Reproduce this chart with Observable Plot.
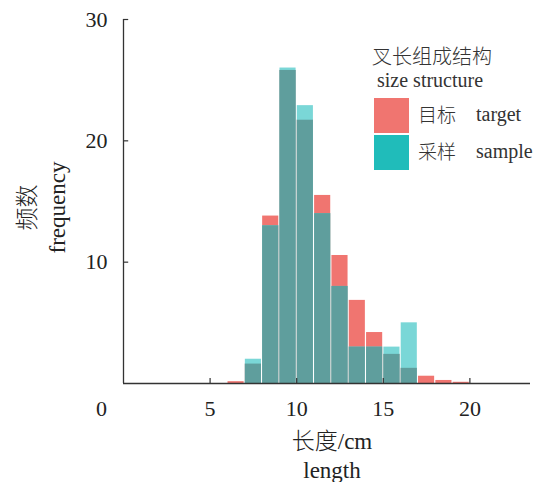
<!DOCTYPE html>
<html><head><meta charset="utf-8">
<script src="https://cdn.jsdelivr.net/npm/d3@7"></script>
<script src="https://cdn.jsdelivr.net/npm/@observablehq/plot@0.6"></script>
<style>body{margin:0;background:#fff;} #chart{position:relative;width:536px;height:482px;}</style>
</head><body><div id="chart"></div>
<script>
// Data (bin width 1 cm)
const binStarts    = [6, 7, 8, 9, 10, 11, 12, 13, 14, 15, 16, 17, 18, 19];
const targetCounts = [0.15, 1.6, 13.8, 25.8, 21.7, 15.5, 10.55, 6.85, 4.2, 2.4, 1.25, 0.6, 0.25, 0.1];
const sampleCounts = [0, 2, 13, 26, 22.9, 14, 8, 3, 3, 3, 5, 0, 0, 0];
const xTicks = [5, 10, 15, 20];
const yTicks = [10, 20, 30];
const legendTitleZh = "叉长组成结构";
const legendTitleEn = "size structure";
const seriesZh = ["目标", "采样"];
const seriesEn = ["target", "sample"];
const seriesColors = ["#F07570", "#20BCBA"];
const xTitle = "长度/cm\nlength";
const yTitle = "频数\nfrequency";

const rows = binStarts.map((b, i) => ({
  x1: b, x2: b + 1,
  target: targetCounts[i],
  sample: sampleCounts[i],
  both: Math.min(targetCounts[i], sampleCounts[i])
}));

const font = "'Liberation Serif', 'Noto Sans CJK SC', serif";
const ink = "#222";

const plot = Plot.plot({
  width: 536, height: 482,
  marginLeft: 123, marginRight: 6, marginTop: 19, marginBottom: 99,
  style: {fontFamily: font, fontSize: "22px", color: ink, background: "#fff"},
  x: {domain: [0, 23.5]},
  y: {domain: [0, 30]},
  marks: [
    Plot.rect(rows, {x1: "x1", x2: "x2", y1: 0, y2: "target", fill: "#F07570", insetLeft: 0.6, insetRight: 0.6}),
    Plot.rect(rows, {x1: "x1", x2: "x2", y1: 0, y2: "sample", fill: "#7AD7D7", insetLeft: 0.6, insetRight: 0.6}),
    Plot.rect(rows, {x1: "x1", x2: "x2", y1: 0, y2: "both", fill: "#5F9E9D", insetLeft: 0.6, insetRight: 0.6}),
    Plot.ruleY([0], {stroke: "#333", strokeWidth: 1.3}),
    Plot.ruleX([0], {y1: 0, y2: 30, stroke: "#333", strokeWidth: 1.3}),
    Plot.ruleY(yTicks, {x1: 0, x2: 0.3, stroke: "#333", strokeWidth: 1.2}),
    Plot.ruleX(xTicks, {y1: 0, y2: 0.42, stroke: "#333", strokeWidth: 1.2}),
    Plot.axisY({ticks: yTicks, tickSize: 0, tickPadding: 16, fontSize: 22, label: null, fill: ink}),
    Plot.axisX({ticks: xTicks, tickSize: 0, tickPadding: 17, fontSize: 22, label: null, fill: ink}),
    Plot.text([0], {x: 0, y: 0, dx: -22, dy: 25, text: d => String(d), fontSize: 22, fill: ink}),
    Plot.text([xTitle], {frameAnchor: "bottom", text: d => d, textAnchor: "middle", dx: 5, dy: 71, lineAnchor: "middle", lineHeight: 1.22, fontSize: 23, fontWeight: 300, fill: ink}),
    Plot.text([yTitle], {frameAnchor: "left", text: d => d, textAnchor: "middle", rotate: -90, dx: -83, dy: 6, lineAnchor: "middle", lineHeight: 1.3, fontSize: 23, fontWeight: 300, fill: ink})
  ]
});

document.getElementById("chart").appendChild(plot);

// Legend drawn into the same SVG
const svg = d3.select(plot);
const lg = svg.append("g").attr("font-family", font).attr("fill", "#333").attr("text-anchor", "start").attr("font-weight", 300);
lg.append("text").attr("x", 372).attr("y", 64).attr("font-size", 20).text(legendTitleZh);
lg.append("text").attr("x", 377).attr("y", 87).attr("font-size", 20).text(legendTitleEn);
seriesZh.forEach((name, i) => {
  const top = 98 + i * 37;
  lg.append("rect").attr("x", 374).attr("y", top).attr("width", 35).attr("height", 35).attr("fill", seriesColors[i]);
  lg.append("text").attr("x", 418).attr("y", top + 24).attr("font-size", 19).text(name);
  lg.append("text").attr("x", 476).attr("y", top + 23).attr("font-size", 20).text(seriesEn[i]);
});
</script>
</body></html>
